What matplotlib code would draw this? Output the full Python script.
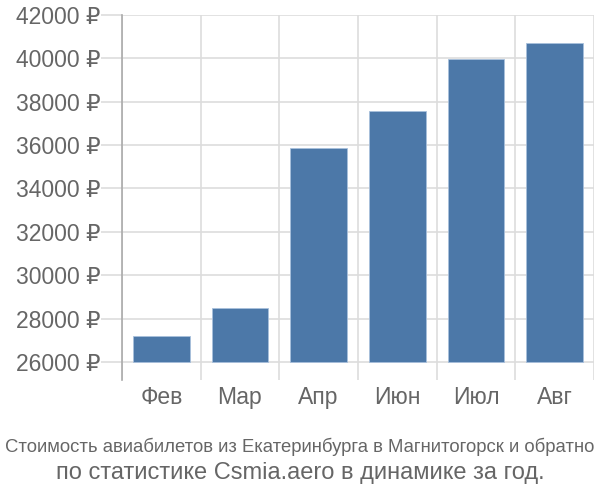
import numpy as np
import matplotlib.pyplot as plt

plt.rcParams['font.family'] = ['Liberation Sans', 'DejaVu Sans']

months = ['Фев', 'Мар', 'Апр', 'Июн', 'Июл', 'Авг']
prices = [27200, 28480, 35860, 37560, 39960, 40700]
yticks = [26000, 28000, 30000, 32000, 34000, 36000, 38000, 40000, 42000]
base = 26000

grid_c = '#dddddd'
text_c = '#666666'

fig = plt.figure(figsize=(6, 5), dpi=100)
ax = fig.add_axes([122/600, 1-380/500, (594-122)/600, (380-15)/500])

x = np.arange(len(months))
heights = [p - base for p in prices]
ax.bar(x, heights, bottom=base, width=0.72, color='#4c78a8',
       edgecolor='#a8c0dc', linewidth=0.6, zorder=3)

ax.set_xlim(-0.5, len(months) - 0.5)
ax.set_ylim(25170, 42000)

# horizontal grid + ticks sticking out left
ax.set_yticks(yticks)
ax.set_yticklabels([f'{v} ₽' for v in yticks])
for v in yticks:
    ax.axhline(v, color=grid_c, lw=1.2, zorder=1)
ax.tick_params(axis='y', length=15, width=1.2, color=grid_c,
               labelcolor=text_c, labelsize=16.5, pad=0.5)

# vertical grid at category boundaries
for b in np.arange(-0.5, len(months), 1.0):
    ax.axvline(b, color=grid_c, lw=1.2, zorder=1)

ax.set_xticks(x)
ax.set_xticklabels(months)
ax.tick_params(axis='x', length=0, labelcolor=text_c, labelsize=16.5, pad=4)

for s in ['top', 'right', 'bottom']:
    ax.spines[s].set_visible(False)
ax.spines['left'].set_color('#aaaaaa')
ax.spines['left'].set_linewidth(1.2)
ax.spines['left'].set_zorder(4)

fig.text(0.5, 1-447/500, 'Стоимость авиабилетов из Екатеринбурга в Магнитогорск и обратно',
         ha='center', va='center', color=text_c, fontsize=13.3)
fig.text(0.5, 1-473/500, 'по статистике Csmia.aero в динамике за год.',
         ha='center', va='center', color=text_c, fontsize=17)

fig.savefig('out.png', dpi=100)
